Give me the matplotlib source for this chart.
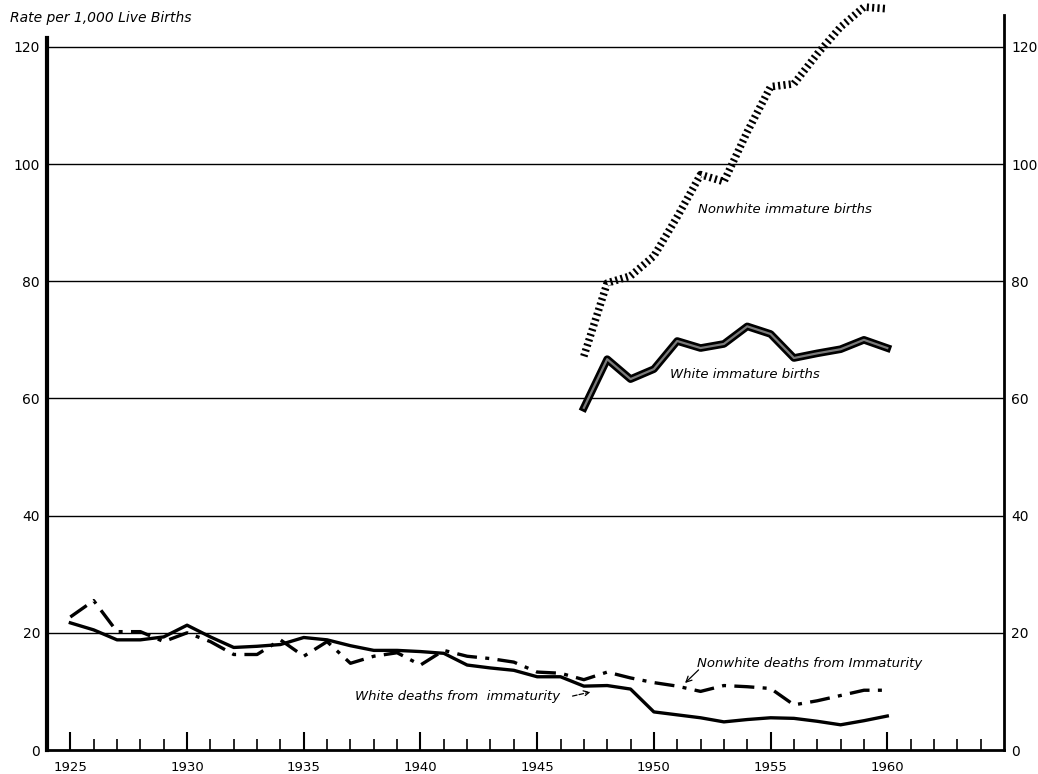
import numpy as np
import matplotlib
matplotlib.use('Agg')
import matplotlib.pyplot as plt

# Data (rate per 1,000 live births)
years = list(range(1925, 1961))
white_deaths = [21.7, 20.5, 18.8, 18.8, 19.3, 21.3, 19.3, 17.5, 17.7, 18.0,
                19.2, 18.8, 17.8, 17.0, 17.0, 16.8, 16.5, 14.5, 14.0, 13.6,
                12.5, 12.5, 10.9, 11.0, 10.4, 6.5, 6.0, 5.5, 4.8, 5.2,
                5.5, 5.4, 4.9, 4.3, 5.0, 5.8]
nonwhite_deaths = [22.7, 25.5, 20.2, 20.2, 18.5, 20.0, 18.5, 16.3, 16.3, 18.8,
                   16.0, 18.5, 14.8, 16.0, 16.6, 14.5, 17.0, 16.0, 15.6, 15.0,
                   13.3, 13.1, 12.0, 13.3, 12.3, 11.5, 10.9, 10.0, 11.0, 10.8,
                   10.5, 7.7, 8.4, 9.3, 10.2, 10.2]

birth_years = list(range(1947, 1961))
white_births = [58.4, 66.7, 63.3, 65.0, 69.8, 68.6, 69.3, 72.3, 71.0, 66.9,
                67.7, 68.4, 70.0, 68.6]
nonwhite_births = [67.2, 79.7, 80.9, 84.3, 91.0, 98.2, 97.0, 105.5, 113.2, 113.7,
                   118.8, 123.4, 126.8, 126.5]

yticks = [0, 20, 40, 60, 80, 100, 120]
xlabels = [1925, 1930, 1935, 1940, 1945, 1950, 1955, 1960]

fig = plt.figure(figsize=(10.38, 7.74), dpi=100)
ax = fig.add_axes([47/1038, 24/774, 957/1038, 750/774])
ax.set_xlim(1924, 1965)
ax.set_ylim(0, 128)

# horizontal rules
for v in yticks[1:]:
    ax.axhline(v, color='black', lw=1.0, zorder=1)

# series
ax.plot(birth_years, nonwhite_births, color='black', lw=5.5,
        linestyle=(0, (0.28, 0.42)), dash_capstyle='butt', zorder=3)
ax.plot(birth_years, white_births, color='black', lw=5.5, zorder=3)
ax.plot(birth_years, white_births, color='#7a7a7a', lw=1.6, zorder=4)
ax.plot(years, white_deaths, color='black', lw=2.4, zorder=3)
ax.plot(years, nonwhite_deaths, color='black', lw=2.4,
        linestyle=(0, (6, 2.5, 1.2, 2.5)), zorder=3)

# labels on the chart
tkw = dict(style='italic', fontsize=9.5, color='black')
ax.text(1951.9, 92.3, 'Nonwhite immature births', ha='left', va='center', **tkw)
ax.text(1950.7, 64.0, 'White immature births', ha='left', va='center', **tkw)
ax.text(1937.2, 9.2, 'White deaths from  immaturity', ha='left', va='center', **tkw)
ax.text(1951.85, 14.8, 'Nonwhite deaths from Immaturity', ha='left', va='center', **tkw)
ax.annotate('', xy=(1947.4, 10.0), xytext=(1946.4, 9.1),
            arrowprops=dict(arrowstyle='->', lw=0.9, color='black', linestyle='--'))
ax.annotate('', xy=(1951.25, 11.1), xytext=(1952.0, 14.0),
            arrowprops=dict(arrowstyle='->', lw=0.9, color='black'))

fig.text(10/1038, 1 - 18/774, 'Rate per 1,000 Live Births', style='italic',
         fontsize=10, ha='left', va='center')

# axes styling
ax.spines['top'].set_visible(False)
ax.spines['left'].set_linewidth(3)
ax.spines['right'].set_linewidth(2)
ax.spines['bottom'].set_linewidth(2)
ax.spines['left'].set_bounds(0, 121.5)
ax.spines['right'].set_bounds(0, 125.5)

ax.set_yticks(yticks)
ax.set_yticklabels([str(v) for v in yticks], fontsize=10)
ax.tick_params(axis='y', length=0, pad=5, labelright=True, right=False)

ax.set_xticks(xlabels)
ax.set_xticklabels([str(v) for v in xlabels], fontsize=9.5)
ax.set_xticks([y for y in range(1925, 1965) if y not in xlabels], minor=True)
ax.tick_params(axis='x', which='major', direction='in', length=13, width=1.5, pad=8)
ax.tick_params(axis='x', which='minor', direction='in', length=8, width=1.2)

fig.savefig('out.png', dpi=100)
